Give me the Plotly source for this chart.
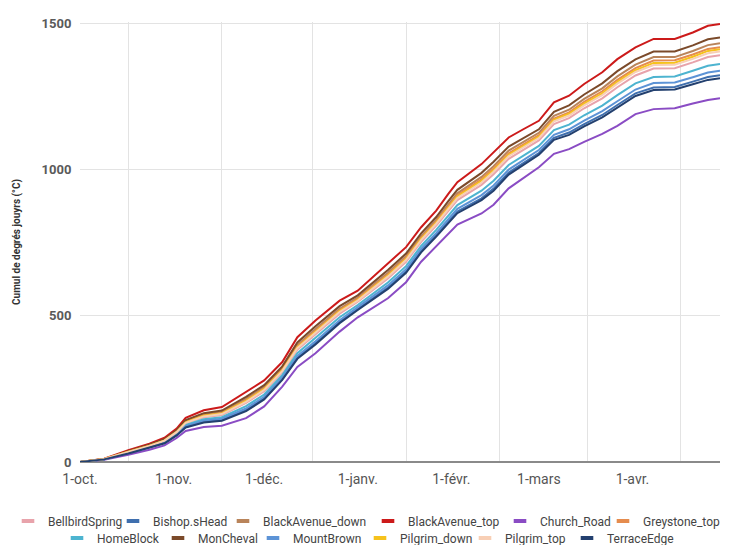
import plotly.graph_objects as go

# dates sampled along the season (Oct 1 -> Apr 30)
dates = ["2019-10-01", "2019-10-09", "2019-10-17", "2019-10-24", "2019-10-29", "2019-11-02",
         "2019-11-05", "2019-11-11", "2019-11-17", "2019-11-25", "2019-12-01", "2019-12-07",
         "2019-12-12", "2019-12-18", "2019-12-26", "2020-01-01", "2020-01-11", "2020-01-17",
         "2020-01-22", "2020-01-27", "2020-01-31", "2020-02-03", "2020-02-11", "2020-02-15",
         "2020-02-20", "2020-02-25", "2020-03-01", "2020-03-06", "2020-03-11", "2020-03-16",
         "2020-03-22", "2020-03-27", "2020-04-02", "2020-04-08", "2020-04-15", "2020-04-21",
         "2020-04-26", "2020-04-30"]

bellbird_spring = [0, 10, 34, 54, 72, 101, 132, 153, 161, 202, 242, 307, 384, 437, 507, 548, 628, 685, 753,
                   809, 859, 896, 948, 984, 1037, 1069, 1100, 1156, 1176, 1210, 1244, 1282, 1322, 1346,
                   1347, 1367, 1385, 1391]
bishops_head = [0, 9, 30, 49, 65, 92, 120, 138, 144, 178, 218, 284, 357, 407, 479, 523, 597, 652, 722,
                776, 822, 857, 902, 935, 990, 1024, 1057, 1109, 1127, 1156, 1187, 1221, 1261, 1281,
                1283, 1301, 1317, 1323]
black_avenue_down = [0, 10, 36, 58, 76, 106, 139, 162, 171, 216, 256, 320, 400, 455, 524, 562, 647, 704,
                     772, 828, 881, 919, 975, 1012, 1065, 1096, 1126, 1184, 1205, 1242, 1278, 1319, 1359,
                     1385, 1385, 1406, 1426, 1432]
black_avenue_top = [0, 11, 40, 63, 83, 114, 151, 177, 188, 239, 279, 342, 427, 484, 552, 586, 678, 735,
                    803, 860, 917, 957, 1019, 1059, 1110, 1139, 1167, 1230, 1253, 1293, 1333, 1378, 1418,
                    1447, 1447, 1469, 1492, 1498]
church_road = [0, 8, 25, 42, 57, 82, 106, 120, 124, 150, 190, 258, 325, 372, 446, 495, 560, 615, 685,
               738, 780, 812, 850, 880, 936, 972, 1008, 1054, 1070, 1095, 1122, 1150, 1190, 1207, 1210,
               1226, 1238, 1244]
greystone_top = [0, 10, 35, 56, 75, 104, 137, 159, 168, 211, 251, 316, 395, 449, 519, 558, 641, 698, 766,
                 822, 875, 912, 967, 1004, 1056, 1087, 1118, 1175, 1196, 1232, 1268, 1307, 1347, 1373,
                 1374, 1394, 1413, 1419]
home_block = [0, 9, 32, 52, 69, 97, 127, 146, 153, 191, 231, 297, 372, 424, 495, 537, 614, 670, 739, 794,
              843, 879, 928, 962, 1016, 1049, 1081, 1135, 1154, 1186, 1219, 1255, 1295, 1317, 1319, 1338,
              1355, 1361]
mon_cheval = [0, 10, 37, 59, 78, 108, 143, 167, 176, 223, 263, 327, 409, 464, 533, 570, 657, 713, 782,
              838, 892, 931, 989, 1027, 1079, 1109, 1138, 1198, 1220, 1257, 1295, 1337, 1377, 1404, 1404,
              1425, 1446, 1452]
mount_brown = [0, 9, 31, 50, 67, 94, 123, 141, 148, 183, 223, 289, 363, 413, 485, 529, 604, 659, 729, 783,
               831, 866, 913, 946, 1000, 1034, 1067, 1119, 1138, 1168, 1200, 1234, 1274, 1296, 1298, 1316,
               1332, 1338]
pilgrim_down = [0, 10, 35, 56, 74, 103, 136, 158, 166, 209, 249, 313, 392, 446, 516, 555, 638, 694, 763,
                819, 870, 908, 962, 998, 1051, 1082, 1113, 1170, 1191, 1226, 1261, 1300, 1340, 1365, 1366,
                1386, 1406, 1412]
pilgrim_top = [0, 10, 34, 55, 73, 102, 134, 156, 164, 206, 246, 311, 389, 443, 513, 552, 634, 691, 759,
               815, 866, 903, 956, 993, 1046, 1077, 1108, 1165, 1185, 1220, 1255, 1294, 1334, 1358, 1359,
               1379, 1398, 1404]
terrace_edge = [0, 9, 29, 48, 64, 91, 118, 135, 141, 174, 214, 281, 353, 402, 475, 520, 592, 647, 717,
                771, 817, 851, 896, 928, 983, 1017, 1051, 1102, 1119, 1148, 1179, 1212, 1252, 1272, 1274,
                1292, 1307, 1313]

series = [
    ("BellbirdSpring", bellbird_spring, "#e8a3ab"),
    ("Bishop.sHead", bishops_head, "#3f6fae"),
    ("BlackAvenue_down", black_avenue_down, "#b9845a"),
    ("BlackAvenue_top", black_avenue_top, "#cc1a1a"),
    ("Church_Road", church_road, "#8a4cc4"),
    ("Greystone_top", greystone_top, "#e58c4e"),
    ("HomeBlock", home_block, "#4db4d0"),
    ("MonCheval", mon_cheval, "#7b4a2a"),
    ("MountBrown", mount_brown, "#5c93d6"),
    ("Pilgrim_down", pilgrim_down, "#f6c21c"),
    ("Pilgrim_top", pilgrim_top, "#f8cfb5"),
    ("TerraceEdge", terrace_edge, "#23406f"),
]

tick_dates = ["2019-10-01", "2019-11-01", "2019-12-01", "2020-01-01", "2020-02-01", "2020-03-01", "2020-04-01"]
tick_labels = ["1-oct.", "1-nov.", "1-déc.", "1-janv.", "1-févr.", "1-mars", "1-avr."]

# the page has an 8px body margin, so the figure is 8px smaller than the window
W, H = 722, 537

# legend entry placement (left edge of each entry, in px) - two rows of six, like sheets
legend_left = [-6, 105, 215, 360, 492, 595, 49, 150, 245, 352, 457, 559]
legend_row_y = [1 - 513 / H] * 6 + [1 - 530 / H] * 6

fig = go.Figure()
legends = {}
for i, (name, values, color) in enumerate(series):
    key = "legend" if i == 0 else "legend%d" % (i + 1)
    fig.add_trace(go.Scatter(x=dates, y=values, name=name, mode="lines",
                             line=dict(color=color, width=2), showlegend=False))
    # short rounded-dash legend key
    fig.add_trace(go.Scatter(x=[None], y=[None], name=name, mode="markers", legend=key,
                             marker=dict(symbol="line-ew", size=9, color=color,
                                         line=dict(width=4, color=color))))
    legends[key] = dict(orientation="h", xref="container", yref="container",
                        x=legend_left[i] / W, y=legend_row_y[i], xanchor="left", yanchor="middle",
                        font=dict(family="Roboto", size=12, color="#444444"),
                        bgcolor="rgba(0,0,0,0)", borderwidth=0)

fig.update_layout(
    width=W, height=H,
    margin=dict(l=72, r=10, t=14, b=83, autoexpand=False),
    plot_bgcolor="white", paper_bgcolor="white",
    font=dict(family="Roboto", color="#555555"),
    showlegend=True,
    **legends,
)
fig.update_xaxes(
    range=["2019-10-01", "2020-04-30"],
    tickvals=tick_dates, ticktext=tick_labels,
    tickfont=dict(size=14, color="#555555"),
    showgrid=False, showline=False, automargin=False,
    ticks="outside", ticklen=4, tickcolor="rgba(0,0,0,0)",
    minor=dict(tick0="2019-10-17", dtick="M1", showgrid=True, gridcolor="#e3e3e3", gridwidth=1),
)
fig.update_yaxes(
    range=[0, 1505],
    tickvals=[0, 500, 1000, 1500],
    tickfont=dict(size=13, color="#5a5a5a", weight="bold"),
    gridcolor="#e3e3e3", gridwidth=1, automargin=False,
    ticks="outside", ticklen=5, tickcolor="rgba(0,0,0,0)",
    zeroline=True, zerolinecolor="#8a8a8a", zerolinewidth=2,
    title=dict(text="Cumul de degrés jouyrs (°C)", standoff=19,
               font=dict(size=10, color="#333333", weight="bold")),
)

fig.write_html("out.html")
